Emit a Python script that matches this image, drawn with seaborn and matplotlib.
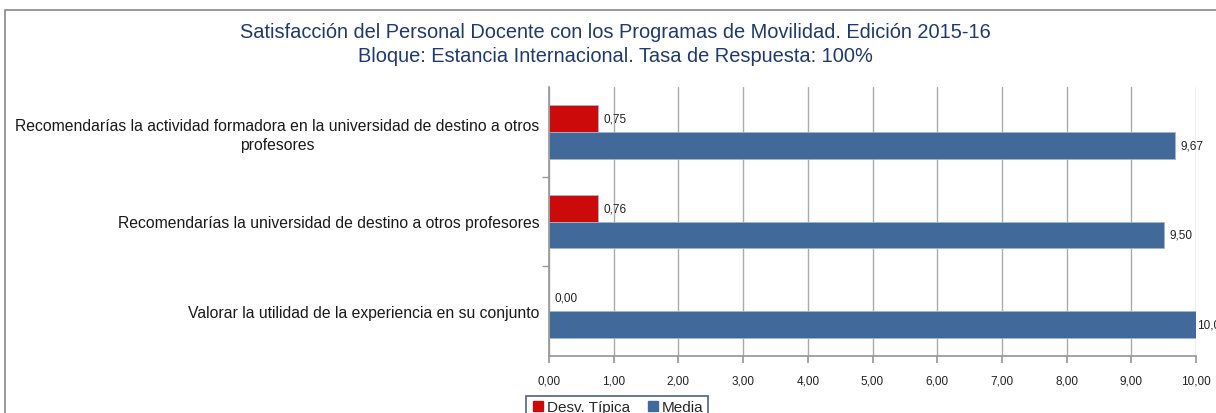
import matplotlib
matplotlib.use('Agg')
import matplotlib.pyplot as plt
from matplotlib.patches import Rectangle
from matplotlib.ticker import FixedLocator
import pandas as pd
import seaborn as sns

# chart data
preguntas = ['Recomendarías la actividad formadora en la universidad de destino a otros\nprofesores',
             'Recomendarías la universidad de destino a otros profesores',
             'Valorar la utilidad de la experiencia en su conjunto']
desv_tipica = [0.75, 0.76, 0.00]
media = [9.67, 9.50, 10.00]
series = ['Desv. Típica', 'Media']
x_ticks = [0, 1, 2, 3, 4, 5, 6, 7, 8, 9, 10]

# long-form frame for seaborn
plot_df = pd.DataFrame({
    'pregunta': preguntas * 2,
    'valor': desv_tipica + media,
    'serie': [series[0]] * 3 + [series[1]] * 3,
})

sns.set_theme(style='white')
plt.rcParams['font.family'] = ['Liberation Sans', 'DejaVu Sans']

colores = {'Desv. Típica': '#CC0A0A', 'Media': '#416A9B'}
fig = plt.figure(figsize=(12.16, 4.14), dpi=100)
ax = fig.add_axes([549/1216, 1 - 357/414, (1196-549)/1216, (357-88)/414])

sns.barplot(data=plot_df, y='pregunta', x='valor', hue='serie', hue_order=series,
            palette=colores, orient='h', width=0.6, ax=ax, legend=False,
            saturation=1, edgecolor='#9FB6D3', linewidth=0.6)

# value labels with comma decimals
for cont in ax.containers:
    labs = [f'{b.get_width():.2f}'.replace('.', ',') for b in cont]
    anns = ax.bar_label(cont, labels=labs, padding=4, fontsize=8.5, color='#222222')
    # label at the axis end sits tight against the bar, as in the original
    for b, a in zip(cont, anns):
        if b.get_width() >= 10:
            a.xyann = (1, 0)

ax.set_xlim(0, 10)
ax.set_ylim(2.5, -0.5)
ax.set_xticks(x_ticks)
ax.set_xticklabels([f'{t:.2f}'.replace('.', ',') for t in x_ticks], fontsize=8.5, color='#222222')
ax.xaxis.grid(True, color='#AAAAAA', linewidth=1)
ax.set_axisbelow(True)
ax.set_xlabel('')
ax.set_ylabel('')
ax.tick_params(axis='x', bottom=True, length=5, color='#999999', pad=8)
ax.tick_params(axis='y', left=False, labelsize=11.3, labelcolor='#1A1A1A', pad=1)
for lab in ax.get_yticklabels():
    lab.set_horizontalalignment('right')
    lab.set_multialignment('center')
    lab.set_linespacing(1.3)
ax.yaxis.set_minor_locator(FixedLocator([0.5, 1.5]))
ax.tick_params(axis='y', which='minor', left=True, length=5, color='#999999')
for s in ['top', 'right']:
    ax.spines[s].set_visible(False)
for s in ['left', 'bottom']:
    ax.spines[s].set_color('#999999')

# title
fig.text(615/1216, 1 - 33/414, 'Satisfacción del Personal Docente con los Programas de Movilidad. Edición 2015-16',
         ha='center', va='center', fontsize=14.4, color='#1F3A6E')
fig.text(615/1216, 1 - 57/414, 'Bloque: Estancia Internacional. Tasa de Respuesta: 100%',
         ha='center', va='center', fontsize=14.4, color='#1F3A6E')

# outer frame of the chart
fig.patches.append(Rectangle((5/1216, -0.1), 1.2, 1 - 11/414 + 0.1, transform=fig.transFigure,
                             fill=False, edgecolor='#888888', linewidth=1.2))

# legend
handles = [plt.Line2D([], [], marker='s', linestyle='', markersize=7, color=colores[s]) for s in series]
leg = fig.legend(handles, series, loc='upper left', bbox_to_anchor=(518/1216, 1 - 389/414),
                 ncol=2, fontsize=11, frameon=True, fancybox=False, handletextpad=0.1,
                 columnspacing=1.0, borderpad=0.3, handlelength=1.0)
leg.get_frame().set_edgecolor('#1F3A6E')
leg.get_frame().set_linewidth(1.2)

plt.savefig('out.png', dpi=100, facecolor='w')
